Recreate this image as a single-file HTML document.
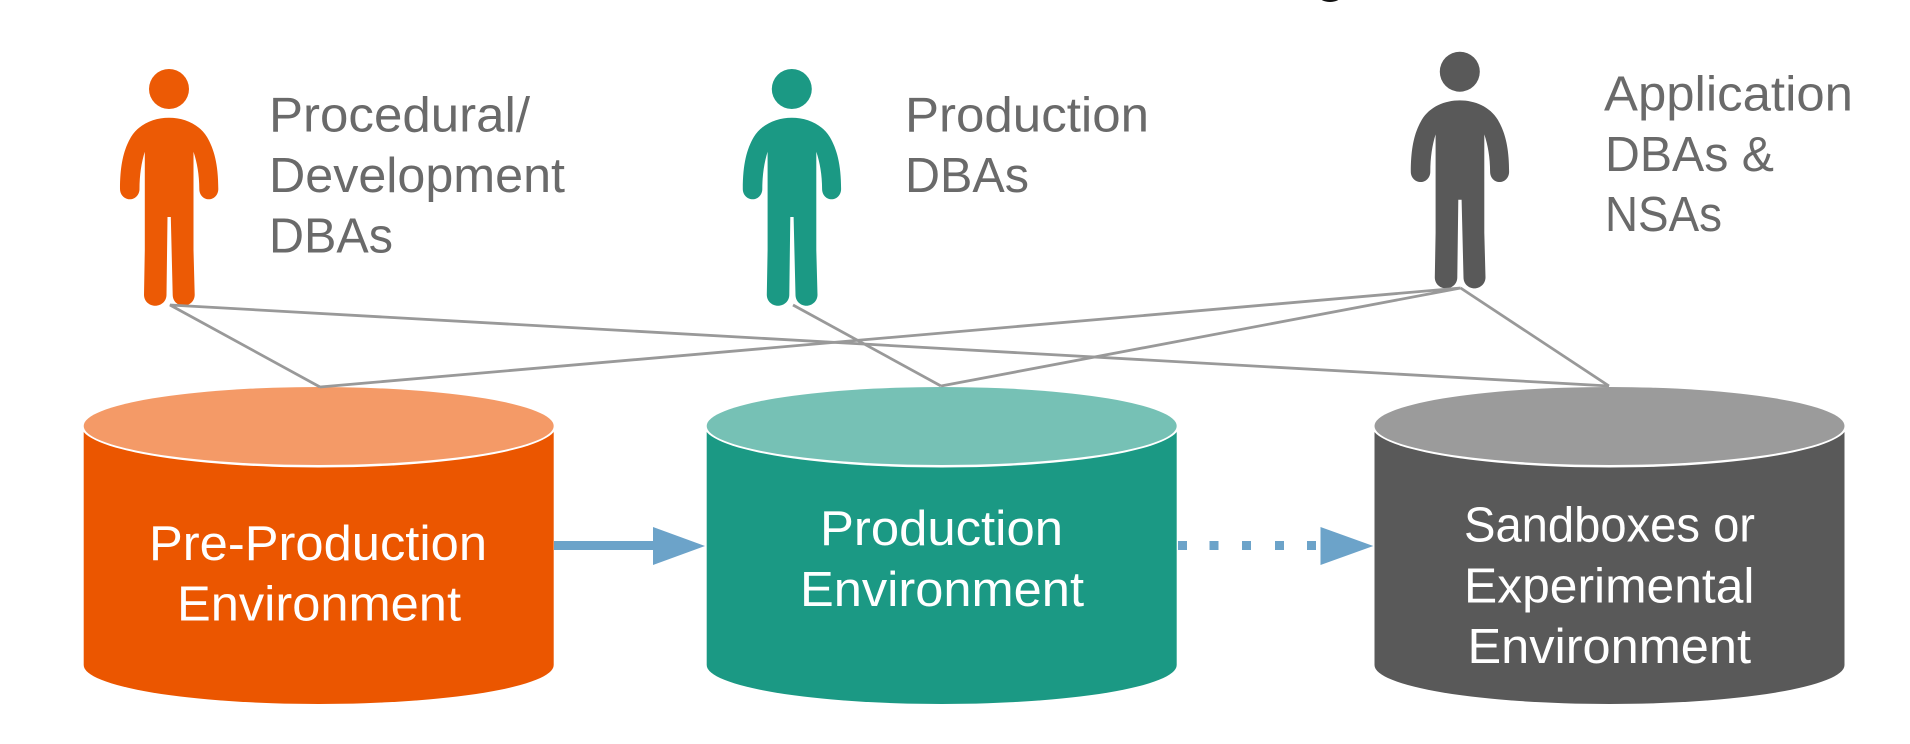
<!DOCTYPE html>
<html lang="en">
<head>
<meta charset="utf-8">
<title>Database environments and DBA roles</title>
<style>
html,body{margin:0;padding:0;background:#fff;width:1910px;height:744px;overflow:hidden}
svg{display:block}
text{font-family:"Liberation Sans",sans-serif;font-size:49px}
.d{fill:#6a6a6a}
.w{fill:#fff}
</style>
</head>
<body>
<svg xmlns="http://www.w3.org/2000/svg" width="1910" height="744" viewBox="0 0 1910 744">
<defs>
<g id="person">
<ellipse cx="0" cy="20" rx="20" ry="20"/>
<path d="M0,48.7 C15,48.7 30,55 38,68 C45,80 49.3,95 49.3,120 C49.3,126 45,130.3 39.8,130.3 C34.5,130.3 30.3,126 30.3,120 C30.3,106 28,93 24.5,82.7 L24.5,181 L25.7,225.7 C25.7,232 20.5,236.7 14.7,236.7 C8.5,236.7 3.7,232 3.7,225.7 L1.8,148 L-1.5,148 L-2.5,225.7 C-2.5,232 -7.5,236.7 -13.8,236.7 C-20,236.7 -25,232 -25,225.7 L-24.2,181 L-24.2,82.7 C-27.5,93 -29.5,106 -29.5,120 C-29.5,126 -34,130.3 -39,130.3 C-44.5,130.3 -49,126 -49,120 C-49,95 -45,80 -38,68 C-30,55 -15,48.7 0,48.7 Z"/>
</g>
</defs>

<!-- title fragment -->
<ellipse cx="1330" cy="-4" rx="11" ry="6" fill="#111"/>

<!-- people -->
<use href="#person" transform="translate(169,69)" fill="#ec5a05"/>
<use href="#person" transform="translate(791.8,69)" fill="#1b9984"/>
<use href="#person" transform="translate(1459.8,51.7)" fill="#595959"/>

<!-- cylinders -->
<g transform="translate(83.7,0)">
<path d="M0,426 V665 A235 39 0 0 0 470,665 V426 Z" fill="#eb5600"/>
<ellipse cx="235" cy="426" rx="237.5" ry="41.5" fill="#fff"/>
<ellipse cx="235" cy="426" rx="235" ry="39" fill="#f49a67"/>
</g>
<g transform="translate(706.7,0)">
<path d="M0,426 V665 A235 39 0 0 0 470,665 V426 Z" fill="#1b9984"/>
<ellipse cx="235" cy="426" rx="237.5" ry="41.5" fill="#fff"/>
<ellipse cx="235" cy="426" rx="235" ry="39" fill="#76c1b5"/>
</g>
<g transform="translate(1374.5,0)">
<path d="M0,426 V665 A235 39 0 0 0 470,665 V426 Z" fill="#595959"/>
<ellipse cx="235" cy="426" rx="237.5" ry="41.5" fill="#fff"/>
<ellipse cx="235" cy="426" rx="235" ry="39" fill="#9b9b9b"/>
</g>

<!-- connector lines -->
<g stroke="#999" stroke-width="2.8" fill="none" stroke-linejoin="miter">
<path d="M320,387 L170,305 L1609,386"/>
<path d="M793,305 L941,386"/>
<path d="M320,387 L1460.6,288 L941,386"/>
<path d="M1460.6,288 L1609,386"/>
</g>

<!-- arrows -->
<rect x="554" y="541" width="100" height="9" fill="#6ca3c9"/>
<polygon points="653,527 705,546 653,565" fill="#6ca3c9"/>
<g fill="#6ca3c9">
<rect x="1178" y="541" width="9" height="9"/>
<rect x="1209.5" y="541" width="9" height="9"/>
<rect x="1242" y="541" width="9" height="9"/>
<rect x="1275" y="541" width="9" height="9"/>
<rect x="1307" y="541" width="9" height="9"/>
</g>
<polygon points="1320.5,527 1373.3,546 1320.5,565" fill="#6ca3c9"/>

<!-- role labels -->
<text class="d" x="269" y="131.7" textLength="261" lengthAdjust="spacingAndGlyphs">Procedural/</text>
<text class="d" x="269" y="192" textLength="296" lengthAdjust="spacingAndGlyphs">Development</text>
<text class="d" x="269" y="252.5" textLength="124" lengthAdjust="spacingAndGlyphs">DBAs</text>
<text class="d" x="905" y="131.7" textLength="244" lengthAdjust="spacingAndGlyphs">Production</text>
<text class="d" x="905" y="192" textLength="124" lengthAdjust="spacingAndGlyphs">DBAs</text>
<text class="d" x="1604" y="110.7" textLength="249" lengthAdjust="spacingAndGlyphs">Application</text>
<text class="d" x="1605" y="171" textLength="169" lengthAdjust="spacingAndGlyphs">DBAs &amp;</text>
<text class="d" x="1605" y="231" textLength="117" lengthAdjust="spacingAndGlyphs">NSAs</text>

<!-- cylinder labels -->
<text class="w" x="149" y="560" textLength="338" lengthAdjust="spacingAndGlyphs">Pre-Production</text>
<text class="w" x="177" y="620.7" textLength="284" lengthAdjust="spacingAndGlyphs">Environment</text>
<text class="w" x="820" y="545" textLength="243" lengthAdjust="spacingAndGlyphs">Production</text>
<text class="w" x="800" y="606" textLength="284" lengthAdjust="spacingAndGlyphs">Environment</text>
<text class="w" x="1464" y="541.7" textLength="291" lengthAdjust="spacingAndGlyphs">Sandboxes or</text>
<text class="w" x="1464" y="602.3" textLength="290.5" lengthAdjust="spacingAndGlyphs">Experimental</text>
<text class="w" x="1467.5" y="663" textLength="283.5" lengthAdjust="spacingAndGlyphs">Environment</text>
</svg>
</body>
</html>
